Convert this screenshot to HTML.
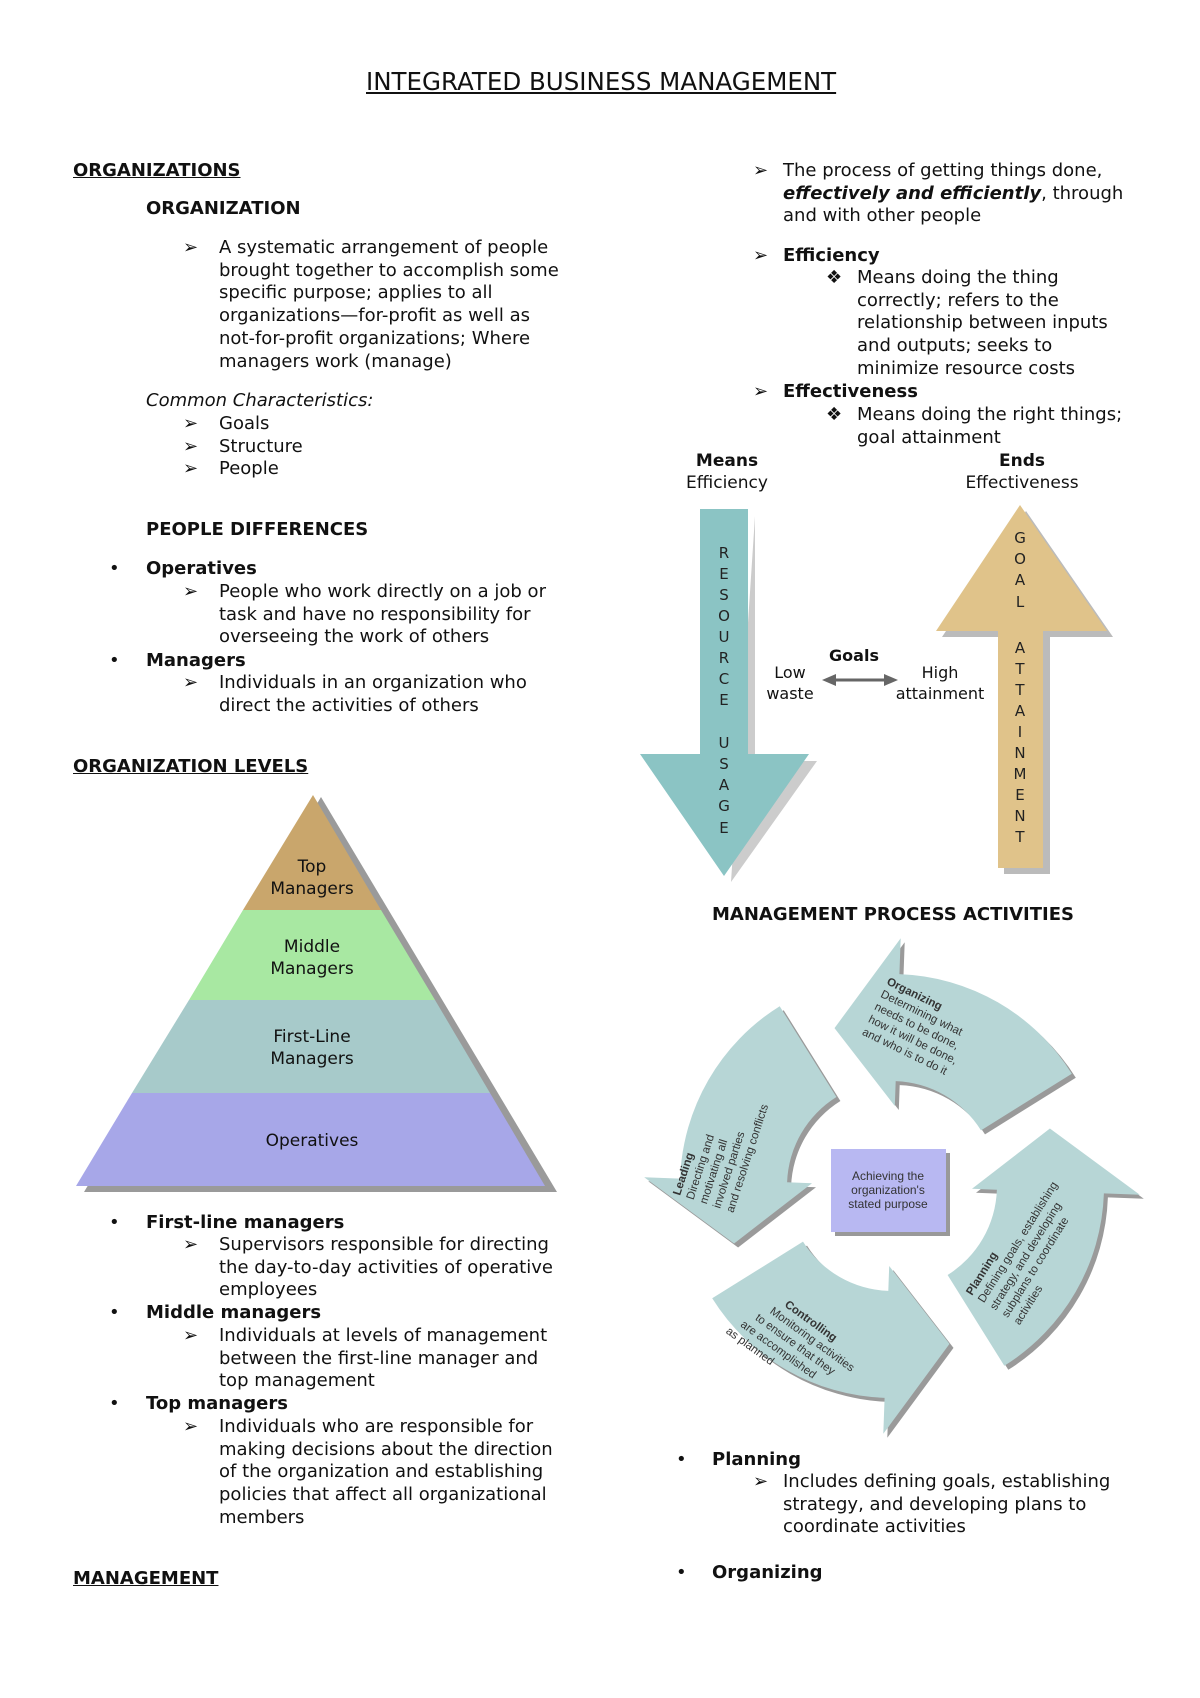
<!DOCTYPE html>
<html><head><meta charset="utf-8"><style>
body{margin:0;width:1200px;height:1698px;position:relative;background:#fff;font-family:"DejaVu Sans","Liberation Sans",sans-serif;color:#111;font-size:18px;overflow:hidden}
.t{position:absolute;white-space:nowrap;line-height:22.7px}
.b{font-weight:bold}.u{text-decoration:underline}
svg{position:absolute;left:0;top:0}
</style></head><body>
<div class="t u" style="left:366px;top:71px;font-size:24.5px">INTEGRATED BUSINESS MANAGEMENT</div>

<div class="t b u" style="left:73px;top:160px">ORGANIZATIONS</div>
<div class="t b" style="left:146px;top:198px">ORGANIZATION</div>
<div class="t" style="left:183px;top:237px">➢</div>
<div class="t" style="left:219px;top:237px">A systematic arrangement of people<br>brought together to accomplish some<br>specific purpose; applies to all<br>organizations—for-profit as well as<br>not-for-profit organizations; Where<br>managers work (manage)</div>
<div class="t" style="left:146px;top:390px;font-style:italic">Common Characteristics:</div>
<div class="t" style="left:183px;top:413px">➢<br>➢<br>➢</div>
<div class="t" style="left:219px;top:413px">Goals<br>Structure<br>People</div>
<div class="t b" style="left:146px;top:519px">PEOPLE DIFFERENCES</div>
<div class="t" style="left:109px;top:558px">•</div>
<div class="t b" style="left:146px;top:558px">Operatives</div>
<div class="t" style="left:183px;top:581px">➢</div>
<div class="t" style="left:219px;top:581px">People who work directly on a job or<br>task and have no responsibility for<br>overseeing the work of others</div>
<div class="t" style="left:109px;top:650px">•</div>
<div class="t b" style="left:146px;top:650px">Managers</div>
<div class="t" style="left:183px;top:672px">➢</div>
<div class="t" style="left:219px;top:672px">Individuals in an organization who<br>direct the activities of others</div>
<div class="t b u" style="left:73px;top:756px">ORGANIZATION LEVELS</div>

<svg width="1200" height="1698">
<g transform="translate(0,-6)">
<polygon points="321,803 557,1198 84,1198" fill="#9a9a9a"/>
<polygon points="313,801 381,916 243,916" fill="#c9a66c"/>
<polygon points="243,916 381,916 435,1006 189,1006" fill="#a8e8a2"/>
<polygon points="189,1006 435,1006 490,1099 132,1099" fill="#a7caca"/>
<polygon points="132,1099 490,1099 545,1192 76,1192" fill="#a7a7e8"/>
<g font-family="DejaVu Sans,sans-serif" font-size="17" text-anchor="middle" fill="#111">
<text x="312" y="878">Top</text><text x="312" y="900">Managers</text>
<text x="312" y="958">Middle</text><text x="312" y="980">Managers</text>
<text x="312" y="1048">First-Line</text><text x="312" y="1070">Managers</text>
<text x="312" y="1152">Operatives</text>
</g>
</g>

<polygon points="755,516 755,761 817,761 731,882 731,882" fill="#ccc"/>
<polygon points="700,509 748,509 748,754 809,754 724,876 640,754 700,754" fill="#8bc4c4"/>
<polygon points="1026,511 1113,637 1050,637 1050,874 1004,874 1004,637 942,637" fill="#bbb"/>
<polygon points="1020,505 1107,631 1043,631 1043,868 998,868 998,631 936,631" fill="#e0c38a"/>
<g font-family="DejaVu Sans,sans-serif" font-size="15" text-anchor="middle" fill="#222">
<text x="724" y="558">R</text><text x="724" y="579">E</text><text x="724" y="600">S</text><text x="724" y="621">O</text><text x="724" y="642">U</text><text x="724" y="663">R</text><text x="724" y="684">C</text><text x="724" y="705">E</text>
<text x="724" y="748">U</text><text x="724" y="769">S</text><text x="724" y="790">A</text><text x="724" y="811">G</text><text x="724" y="833">E</text>
<text x="1020" y="543">G</text><text x="1020" y="564">O</text><text x="1020" y="585">A</text><text x="1020" y="607">L</text>
<text x="1020" y="653">A</text><text x="1020" y="674">T</text><text x="1020" y="695">T</text><text x="1020" y="716">A</text><text x="1020" y="737">I</text><text x="1020" y="758">N</text><text x="1020" y="779">M</text><text x="1020" y="800">E</text><text x="1020" y="821">N</text><text x="1020" y="842">T</text>
</g>
<g font-family="DejaVu Sans,sans-serif" font-size="17" text-anchor="middle" fill="#111">
<text x="727" y="466" font-weight="bold">Means</text><text x="727" y="488">Efficiency</text>
<text x="1022" y="466" font-weight="bold">Ends</text><text x="1022" y="488">Effectiveness</text>
<text x="854" y="661" font-weight="bold" font-size="16">Goals</text>
<text x="790" y="678" font-size="16">Low</text><text x="790" y="699" font-size="16">waste</text>
<text x="940" y="678" font-size="16">High</text><text x="940" y="699" font-size="16">attainment</text>
</g>
<line x1="832" y1="680" x2="888" y2="680" stroke="#666" stroke-width="3"/>
<polygon points="822,680 836,674 836,686" fill="#666"/><polygon points="898,680 884,674 884,686" fill="#666"/>

<g id="cyc"></g>
<rect x="835" y="1153" width="115" height="83" fill="#999"/>
<rect x="831" y="1149" width="115" height="83" fill="#b8b8f2"/>
<g font-family="Liberation Sans,sans-serif" font-size="12" text-anchor="middle" fill="#333">
<text x="888" y="1180">Achieving the</text><text x="888" y="1194">organization's</text><text x="888" y="1208">stated purpose</text>
</g>
<g font-family="Liberation Sans,sans-serif" font-size="11.5" fill="#333">
<g transform="translate(886,984) rotate(26)"><text font-weight="bold">Organizing</text><text y="14">Determining what</text><text y="28">needs to be done,</text><text y="42">how it will be done,</text><text y="56">and who is to do it</text></g>
<g transform="translate(680,1196) rotate(-72)"><text font-weight="bold">Leading</text><text y="14">Directing and</text><text y="28">motivating all</text><text y="42">involved parties</text><text y="56">and resolving conflicts</text></g>
<g transform="translate(784,1306) rotate(36)"><text font-weight="bold">Controlling</text><text x="-8" y="14">Monitoring activities</text><text x="-16" y="28">to ensure that they</text><text x="-24" y="42">are accomplished</text><text x="-32" y="56">as planned</text></g>
<g transform="translate(972,1296) rotate(-58)"><text font-weight="bold">Planning</text><text y="14">Defining goals, establishing</text><text y="28">strategy, and developing</text><text y="42">subplans to coordinate</text><text y="56">activities</text></g>
</g>
</svg>

<div class="t" style="left:753px;top:160px">➢</div>
<div class="t" style="left:783px;top:160px">The process of getting things done,<br><b><i>effectively and efficiently</i></b>, through<br>and with other people</div>
<div class="t" style="left:753px;top:245px">➢</div>
<div class="t b" style="left:783px;top:245px">Efficiency</div>
<div class="t" style="left:826px;top:267px">❖</div>
<div class="t" style="left:857px;top:267px">Means doing the thing<br>correctly; refers to the<br>relationship between inputs<br>and outputs; seeks to<br>minimize resource costs</div>
<div class="t" style="left:753px;top:381px">➢</div>
<div class="t b" style="left:783px;top:381px">Effectiveness</div>
<div class="t" style="left:826px;top:404px">❖</div>
<div class="t" style="left:857px;top:404px">Means doing the right things;<br>goal attainment</div>
<div class="t b" style="left:712px;top:904px">MANAGEMENT PROCESS ACTIVITIES</div>

<div class="t" style="left:109px;top:1212px">•</div>
<div class="t b" style="left:146px;top:1212px">First-line managers</div>
<div class="t" style="left:183px;top:1234px">➢</div>
<div class="t" style="left:219px;top:1234px">Supervisors responsible for directing<br>the day-to-day activities of operative<br>employees</div>
<div class="t" style="left:109px;top:1302px">•</div>
<div class="t b" style="left:146px;top:1302px">Middle managers</div>
<div class="t" style="left:183px;top:1325px">➢</div>
<div class="t" style="left:219px;top:1325px">Individuals at levels of management<br>between the first-line manager and<br>top management</div>
<div class="t" style="left:109px;top:1393px">•</div>
<div class="t b" style="left:146px;top:1393px">Top managers</div>
<div class="t" style="left:183px;top:1416px">➢</div>
<div class="t" style="left:219px;top:1416px">Individuals who are responsible for<br>making decisions about the direction<br>of the organization and establishing<br>policies that affect all organizational<br>members</div>
<div class="t b u" style="left:73px;top:1568px">MANAGEMENT</div>

<div class="t" style="left:676px;top:1449px">•</div>
<div class="t b" style="left:712px;top:1449px">Planning</div>
<div class="t" style="left:753px;top:1471px">➢</div>
<div class="t" style="left:783px;top:1471px">Includes defining goals, establishing<br>strategy, and developing plans to<br>coordinate activities</div>
<div class="t" style="left:676px;top:1562px">•</div>
<div class="t b" style="left:712px;top:1562px">Organizing</div>

<script>
(function(){
var cx=892,cy=1186,r1=105,r2=212,h1=80,h2=248,rt=168;
function P(r,a){a=a*Math.PI/180;return (cx+r*Math.cos(a)).toFixed(1)+","+(cy-r*Math.sin(a)).toFixed(1);}
var s="";
for(var k=0;k<4;k++){
 var a=-58+k*90,b=a+56,t=b+22;
 var d="M"+P(r2,a)+" A"+r2+","+r2+" 0 0 0 "+P(r2,b)+" L"+P(h2,b)+" L"+P(rt,t)+" L"+P(h1,b)+" L"+P(r1,b)+" A"+r1+","+r1+" 0 0 1 "+P(r1,a)+" Z";
 s+='<path d="'+d+'" fill="#9a9a9a" transform="translate(4,4)"/>';
 s+='<path d="'+d+'" fill="#b7d6d6"/>';
}
document.getElementById("cyc").innerHTML=s;
})();
</script>
</body></html>
